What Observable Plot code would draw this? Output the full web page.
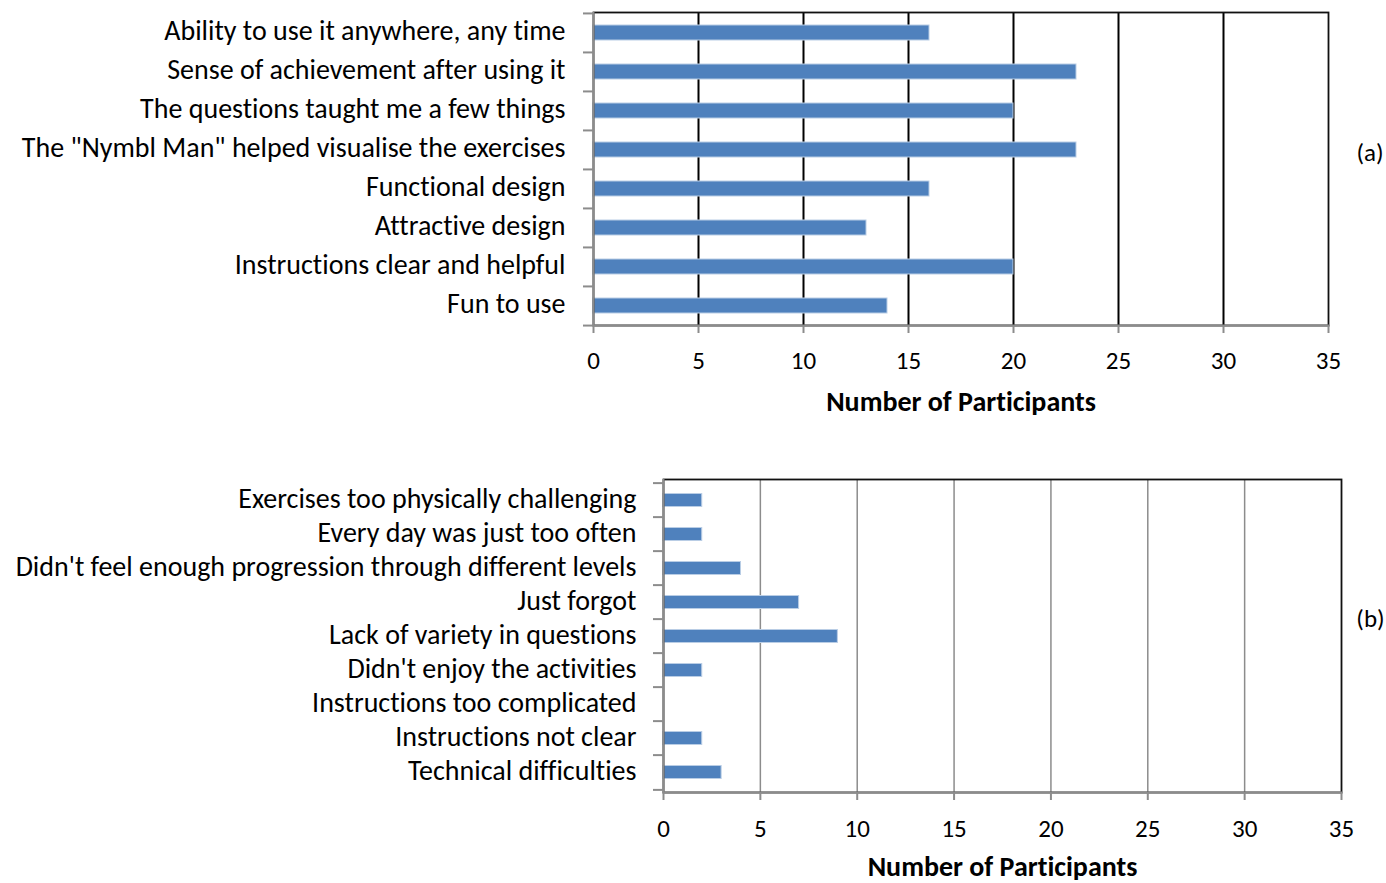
<!DOCTYPE html>
<html>
<head>
<meta charset="utf-8">
<script src="https://cdn.jsdelivr.net/npm/d3@7"></script>
<script src="https://cdn.jsdelivr.net/npm/@observablehq/plot@0.6"></script>
<style>
  body { margin: 0; background: white; }
  #wrap { position: relative; width: 1386px; height: 883px; overflow: hidden; background: white; }
  #wrap svg { position: absolute; left: 0; }
  #wrap svg text { font-variant-ligatures: none; font-feature-settings: "liga" 0, "clig" 0; }
</style>
</head>
<body>
<div id="wrap"></div>
<script>
const categoriesA = [
  "Ability to use it anywhere, any time",
  "Sense of achievement after using it",
  "The questions taught me a few things",
  "The \"Nymbl Man\" helped visualise the exercises",
  "Functional design",
  "Attractive design",
  "Instructions clear and helpful",
  "Fun to use"
];
const valuesA = [16, 23, 20, 23, 16, 13, 20, 14];

const categoriesB = [
  "Exercises too physically challenging",
  "Every day was just too often",
  "Didn't feel enough progression through different levels",
  "Just forgot",
  "Lack of variety in questions",
  "Didn't enjoy the activities",
  "Instructions too complicated",
  "Instructions not clear",
  "Technical difficulties"
];
const valuesB = [2, 2, 4, 7, 9, 2, 0, 2, 3];

const xTicks = [0, 5, 10, 15, 20, 25, 30, 35];
const gridTicks = [5, 10, 15, 20, 25, 30];
const axisTitle = "Number of Participants";

const FONT = "Carlito, Calibri, Lato, sans-serif";

function chart({cats, vals, top, height, mt, mr, mb, ml, gridColor, gridWidth, panel, inset, panelDx, panelDy, titleDy, yPad, xGap}) {
  const data = cats.map((c, i) => ({cat: c, value: vals[i]}));
  const step = (height - mt - mb) / cats.length;
  const svg = Plot.plot({
    width: 1386,
    height,
    marginTop: mt, marginRight: mr, marginBottom: mb, marginLeft: ml,
    style: {fontFamily: FONT, fontSize: "25px", color: "#000", background: "white", overflow: "visible"},
    x: {domain: [0, 35]},
    y: {domain: cats, padding: 0},
    marks: [
      Plot.ruleX(gridTicks, {stroke: gridColor, strokeWidth: gridWidth}),
      Plot.barX(data, {x: "value", y: "cat", fill: "#4f81bd", stroke: "#b9cde5", strokeWidth: 1, insetTop: inset, insetBottom: inset, filter: d => d.value > 0}),
      Plot.frame({stroke: "#111", strokeWidth: 1.8}),
      Plot.ruleX([0], {stroke: "#8c8c8c", strokeWidth: 2}),
      Plot.frame({anchor: "bottom", stroke: "#8c8c8c", strokeWidth: 2}),
      Plot.axisX({ticks: xTicks, tickSize: 8, tickPadding: xGap - 8, stroke: "#8c8c8c", strokeWidth: 2, label: null, tickFormat: d => String(d), fontSize: 25}),
      Plot.axisY({tickSize: 0, tickPadding: yPad, label: null, fontSize: 28, dy: -1.5}),
      Plot.axisY({fill: "none", tickSize: 10, dy: -step / 2, stroke: "#8c8c8c", strokeWidth: 2, label: null}),
      Plot.axisY({ticks: [cats[cats.length - 1]], fill: "none", tickSize: 10, dy: step / 2, stroke: "#8c8c8c", strokeWidth: 2, label: null}),
      Plot.text([axisTitle], {frameAnchor: "bottom", textAnchor: "middle", lineAnchor: "middle", dy: titleDy, fontWeight: "bold", fontSize: 28}),
      Plot.text([panel], {frameAnchor: "right", textAnchor: "middle", lineAnchor: "middle", dx: panelDx, dy: panelDy, fontSize: 25})
    ]
  });
  svg.style.top = top + "px";
  return svg;
}

const wrap = document.getElementById("wrap");
wrap.appendChild(chart({
  cats: categoriesA, vals: valuesA, top: 0, height: 440,
  mt: 12, mr: 58, mb: 115, ml: 593,
  gridColor: "#000", gridWidth: 2, panel: "(a)", inset: 12,
  panelDx: 41.5, panelDy: -16.5, titleDy: 77, yPad: 28, xGap: 26
}));
wrap.appendChild(chart({
  cats: categoriesB, vals: valuesB, top: 440, height: 443,
  mt: 39, mr: 45, mb: 91, ml: 663,
  gridColor: "#8c8c8c", gridWidth: 1.5, panel: "(b)", inset: 10.5,
  panelDx: 29, panelDy: -17, titleDy: 75, yPad: 27, xGap: 27
}));
</script>
</body>
</html>
